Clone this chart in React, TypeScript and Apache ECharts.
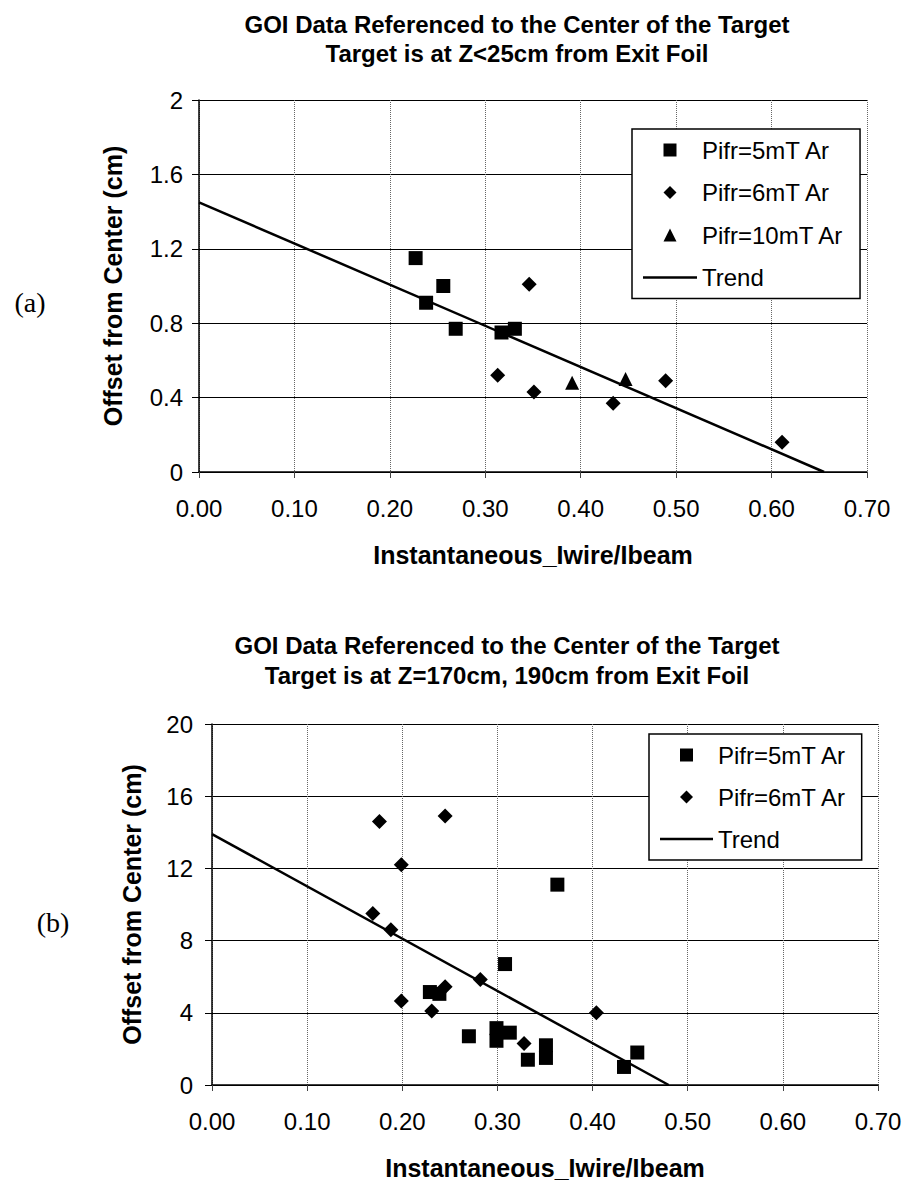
import React, { useEffect, useRef } from 'react';
import * as echarts from 'echarts';

// ---------- data ----------
const X_TICKS = [0, 0.1, 0.2, 0.3, 0.4, 0.5, 0.6, 0.7];
const Y_TICKS_A = [0, 0.4, 0.8, 1.2, 1.6, 2];
const Y_TICKS_B = [0, 4, 8, 12, 16, 20];

const TITLE_A = ['GOI Data Referenced to the Center of the Target', 'Target is at Z<25cm from Exit Foil'];
const TITLE_B = ['GOI Data Referenced to the Center of the Target', 'Target is at Z=170cm, 190cm from Exit Foil'];
const X_NAME = 'Instantaneous_Iwire/Ibeam';
const Y_NAME = 'Offset from Center (cm)';
const NAMES_A = ['Pifr=5mT Ar', 'Pifr=6mT Ar', 'Pifr=10mT Ar', 'Trend'];
const NAMES_B = ['Pifr=5mT Ar', 'Pifr=6mT Ar', 'Trend'];

// chart (a)
const A5_X = [0.227, 0.238, 0.256, 0.269, 0.317, 0.331];
const A5_Y = [1.15, 0.91, 1.0, 0.77, 0.75, 0.77];
const A6_X = [0.313, 0.346, 0.351, 0.434, 0.489, 0.611];
const A6_Y = [0.52, 1.01, 0.43, 0.37, 0.49, 0.16];
const A10_X = [0.391, 0.447];
const A10_Y = [0.48, 0.5];
const A_TREND_X = [0, 0.655];
const A_TREND_Y = [1.45, 0];

// chart (b)
const B5_X = [0.229, 0.239, 0.27, 0.299, 0.299, 0.308, 0.313, 0.332, 0.351, 0.351, 0.363, 0.433, 0.447];
const B5_Y = [5.15, 5.05, 2.7, 3.15, 2.45, 6.7, 2.9, 1.4, 2.2, 1.5, 11.1, 1.0, 1.8];
const B6_X = [0.176, 0.245, 0.199, 0.169, 0.188, 0.199, 0.231, 0.245, 0.282, 0.328, 0.404];
const B6_Y = [14.6, 14.9, 12.2, 9.5, 8.6, 4.65, 4.1, 5.45, 5.85, 2.3, 4.0];
const B_TREND_X = [0, 0.48];
const B_TREND_Y = [13.9, 0];

const zip = (xs: number[], ys: number[]) => xs.map((x, i) => [x, ys[i]]);

const FONT = '"Liberation Sans", Arial, Helvetica, sans-serif';
const SQ = 'path://M0,0H10V10H0Z';
const DIA = 'path://M5,0L10,5L5,10L0,5Z';
const TRI = 'path://M5,0L10,10L0,10Z';
const LINE_ICON = 'path://M0,0H100V4.6H0Z';

function xAxis(gridIndex: number) {
  return {
    type: 'value',
    gridIndex,
    min: X_TICKS[0],
    max: X_TICKS[X_TICKS.length - 1],
    interval: X_TICKS[1] - X_TICKS[0],
    name: X_NAME,
    nameLocation: 'middle',
    nameGap: 70,
    nameTextStyle: { fontSize: 25, fontWeight: 'bold', color: '#000', fontFamily: FONT },
    axisLine: { show: true, onZero: false, lineStyle: { color: '#000', width: 1.5 } },
    axisTick: { show: true, length: 6, lineStyle: { color: '#444', width: 1 } },
    axisLabel: {
      color: '#000',
      fontSize: 24,
      fontFamily: FONT,
      margin: 24,
      formatter: (v: number) => v.toFixed(2),
    },
    splitLine: { show: true, lineStyle: { type: 'dotted', color: '#666', width: 1 } },
  };
}

function yAxis(gridIndex: number, ticks: number[], nameGap: number, margin: number) {
  return {
    type: 'value',
    gridIndex,
    min: ticks[0],
    max: ticks[ticks.length - 1],
    interval: ticks[1] - ticks[0],
    name: Y_NAME,
    nameLocation: 'middle',
    nameGap,
    nameTextStyle: { fontSize: 25, fontWeight: 'bold', color: '#000', fontFamily: FONT },
    axisLine: { show: true, onZero: false, lineStyle: { color: '#000', width: 1.5 } },
    axisTick: { show: true, length: 7, lineStyle: { color: '#000', width: 1 } },
    axisLabel: {
      color: '#000',
      fontSize: 24,
      fontFamily: FONT,
      margin,
      formatter: (v: number) => String(Math.round(v * 100) / 100),
    },
    splitLine: { show: true, lineStyle: { type: 'solid', color: '#000', width: 1 } },
  };
}

function scatter(name: string, axis: number, symbol: string, size: number, xs: number[], ys: number[]) {
  return {
    name,
    type: 'scatter',
    xAxisIndex: axis,
    yAxisIndex: axis,
    symbol,
    symbolSize: size,
    itemStyle: { color: '#000', opacity: 1 },
    data: zip(xs, ys),
    z: 4,
  };
}

function trend(axis: number, xs: number[], ys: number[]) {
  return {
    name: 'Trend',
    type: 'line',
    xAxisIndex: axis,
    yAxisIndex: axis,
    symbol: 'none',
    itemStyle: { color: '#000', opacity: 1 },
    lineStyle: { color: '#000', width: 2.5 },
    data: zip(xs, ys),
    z: 3,
  };
}

const iconFor: Record<string, string> = {
  'Pifr=5mT Ar': SQ,
  'Pifr=6mT Ar': DIA,
  'Pifr=10mT Ar': TRI,
  Trend: LINE_ICON,
};

function legend(names: string[], left: number, top: number, itemWidth: number, itemGap: number, rightPad: number) {
  return {
    orient: 'vertical',
    left,
    top,
    itemWidth,
    itemHeight: 13,
    itemGap,
    padding: [8, rightPad, 8, 11],
    borderColor: '#000',
    borderWidth: 1.5,
    borderRadius: 0,
    backgroundColor: '#fff',
    selectedMode: false,
    itemStyle: { color: '#000', opacity: 1 },
    textStyle: { fontSize: 24, color: '#000', fontFamily: FONT, lineHeight: 26 },
    data: names.map((n) => ({ name: n, icon: iconFor[n] })),
  };
}

export default function App() {
  const ref = useRef<HTMLDivElement>(null);

  useEffect(() => {
    if (!ref.current) return;
    const chart = echarts.init(ref.current, undefined, { renderer: 'svg' });
    const titleStyle = { fontSize: 24, fontWeight: 'bold', color: '#000', fontFamily: FONT };
    chart.setOption({
      animation: false,
      backgroundColor: '#fff',
      title: [
        { text: TITLE_A.join('\n'), left: 517, top: 10, textAlign: 'center', padding: 0, textStyle: { ...titleStyle, lineHeight: 29 } },
        { text: TITLE_B.join('\n'), left: 507, top: 630, textAlign: 'center', padding: 0, textStyle: { ...titleStyle, lineHeight: 30 } },
      ],
      grid: [
        { left: 199, top: 100, width: 668, height: 372, containLabel: false },
        { left: 212, top: 724, width: 666, height: 362, containLabel: false },
      ],
      xAxis: [xAxis(0), xAxis(1)],
      yAxis: [yAxis(0, Y_TICKS_A, 74, 16), yAxis(1, Y_TICKS_B, 68, 19)],
      legend: [
        legend(NAMES_A, 632, 129, 54, 16.5, 16),
        legend(NAMES_B, 649, 734, 53, 16, 15),
      ],
      graphic: [
        { type: 'text', x: 30, y: 302, style: { text: '(a)', align: 'center', verticalAlign: 'middle', fontSize: 28, fontFamily: '"Liberation Serif", "Times New Roman", serif', fill: '#000' } },
        { type: 'text', x: 53, y: 922, style: { text: '(b)', align: 'center', verticalAlign: 'middle', fontSize: 28, fontFamily: '"Liberation Serif", "Times New Roman", serif', fill: '#000' } },
      ],
      series: [
        scatter('Pifr=5mT Ar', 0, 'rect', 14, A5_X, A5_Y),
        scatter('Pifr=6mT Ar', 0, 'diamond', 15, A6_X, A6_Y),
        scatter('Pifr=10mT Ar', 0, 'triangle', 14, A10_X, A10_Y),
        trend(0, A_TREND_X, A_TREND_Y),
        scatter('Pifr=5mT Ar', 1, 'rect', 14, B5_X, B5_Y),
        scatter('Pifr=6mT Ar', 1, 'diamond', 15, B6_X, B6_Y),
        trend(1, B_TREND_X, B_TREND_Y),
      ],
    });
    return () => chart.dispose();
  }, []);

  return (
    <div
      ref={ref}
      style={{ position: 'absolute', left: 0, top: 0, width: 911, height: 1181, background: '#fff' }}
    />
  );
}
